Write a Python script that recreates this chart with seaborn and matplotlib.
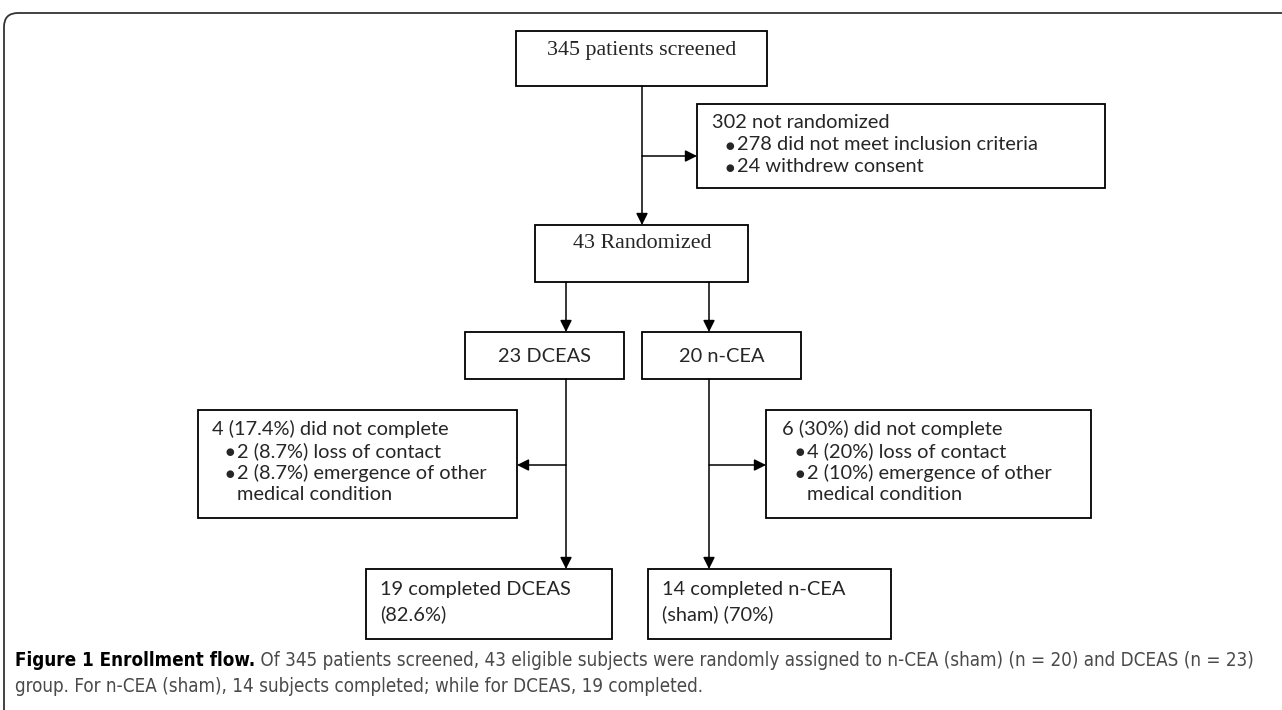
import matplotlib
matplotlib.use("Agg")
import matplotlib.pyplot as plt
import seaborn as sns
from matplotlib import font_manager
from matplotlib.font_manager import FontProperties
from matplotlib.patches import Rectangle, FancyBboxPatch, FancyArrowPatch

# --- flow chart content ---
screened_label = "345 patients screened"
excluded_title = "302 not randomized"
excluded_reasons = ["278 did not meet inclusion criteria", "24 withdrew consent"]
randomized_label = "43 Randomized"
group_labels = ["23 DCEAS", "20 n-CEA"]
dropout_titles = ["4 (17.4%) did not complete", "6 (30%) did not complete"]
dropout_reasons = [
    ["2 (8.7%) loss of contact", "2 (8.7%) emergence of other", "medical condition"],
    ["4 (20%) loss of contact", "2 (10%) emergence of other", "medical condition"],
]
completed_labels = [["19 completed DCEAS", "(82.6%)"], ["14 completed n-CEA", "(sham) (70%)"]]
caption_bold = "Figure 1 Enrollment flow."
caption_line1 = (" Of 345 patients screened, 43 eligible subjects were randomly assigned to "
                 "n-CEA (sham) (n = 20) and DCEAS (n = 23)")
caption_line2 = "group. For n-CEA (sham), 14 subjects completed; while for DCEAS, 19 completed."

# --- layout (pixels, y down) ---
box_screen = (516, 31, 767, 86)
box_excl = (697, 104, 1105, 188)
box_rand = (535, 225, 748, 282)
box_group = [(465, 332, 624, 379), (642, 332, 801, 379)]
box_drop = [(198, 410, 517, 518), (766, 410, 1091, 518)]
box_done = [(366, 569, 612, 639), (648, 569, 891, 639)]
stem_x = [566, 709]
main_x = 642
line_h = 22

sns.set_theme(style="white")
plt.rcParams["font.family"] = ["Lato", "DejaVu Sans"]

fig = plt.figure(figsize=(12.82, 7.10), dpi=100)
ax = fig.add_axes([0, 0, 1, 1])
ax.set_xlim(0, 1282)
ax.set_ylim(710, 0)
ax.axis("off")
renderer = fig.canvas.get_renderer()

serif = ["Liberation Serif", "DejaVu Serif"]
sans = ["Lato", "DejaVu Sans"]

# caption uses a condensed face if one is installed
narrow = [f for f in font_manager.fontManager.ttflist
          if ("Narrow" in f.fname or "ondensed" in f.fname) and "Mono" not in f.fname
          and "Italic" not in f.fname and "Oblique" not in f.fname]
narrow_reg = [f for f in narrow if "Bold" not in f.fname]
narrow_bold = [f for f in narrow if "Bold" in f.fname]
if narrow_reg:
    cap_reg = dict(fontproperties=FontProperties(fname=narrow_reg[0].fname))
    cap_bold = dict(fontproperties=FontProperties(fname=(narrow_bold or narrow_reg)[0].fname))
else:
    cap_reg = dict(family=["Lato"])
    cap_bold = dict(family=["Lato"], weight="bold")


def width10(text, **kw):
    t = fig.text(0, 0, text, **kw)
    t.set_fontsize(10)
    w = t.get_window_extent(renderer=renderer).width
    t.remove()
    return w


serif_fs = 10 * 139 / width10(randomized_label, family=serif)
sans_fs = 10 * 178 / width10(excluded_title, family=sans)
cap_fs = 10 * 1243 / (width10(caption_bold, **cap_bold) + width10(caption_line1, **cap_reg))


def box(b, lw=1.3):
    x0, y0, x1, y1 = b
    ax.add_patch(Rectangle((x0, y0), x1 - x0, y1 - y0, fill=False, ec="black", lw=lw))


def arrow(p0, p1):
    ax.add_patch(FancyArrowPatch(p0, p1, arrowstyle="-|>,head_length=0.7,head_width=0.35",
                                 mutation_scale=10, lw=1.1, color="black",
                                 shrinkA=0, shrinkB=0))


def bullet_block(b, title, items, dx=14):
    x0, y0 = b[0] + dx, b[1] + 19
    ax.text(x0, y0, title, fontsize=sans_fs, family=sans, va="center", ha="left")
    for i, item in enumerate(items):
        y = y0 + (i + 1) * line_h
        if item != "medical condition":
            ax.text(x0 + 18, y + 1, "\u25cf", fontsize=sans_fs * 0.5, family=["DejaVu Sans"],
                    va="center", ha="center")
        ax.text(x0 + 25, y, item, fontsize=sans_fs, family=sans, va="center", ha="left")


# outer frame
ax.add_patch(FancyBboxPatch((4, 13), 1400, 800, boxstyle="round,pad=0,rounding_size=14",
                            fill=False, ec="#333333", lw=1.3))

# top part
box(box_screen)
ax.text(main_x, 51, screened_label, fontsize=serif_fs, family=serif, ha="center", va="center")
box(box_excl)
bullet_block(box_excl, excluded_title, excluded_reasons, dx=15)
box(box_rand)
ax.text(main_x, 244, randomized_label, fontsize=serif_fs, family=serif, ha="center", va="center")
arrow((main_x, box_screen[3]), (main_x, box_rand[1]))
arrow((main_x, 156), (box_excl[0], 156))

# arms
for i in range(2):
    gb = box_group[i]
    box(gb)
    ax.text((gb[0] + gb[2]) / 2, 356, group_labels[i], fontsize=sans_fs, family=sans,
            ha="center", va="center")
    arrow((stem_x[i], box_rand[3]), (stem_x[i], gb[1]))
    arrow((stem_x[i], gb[3]), (stem_x[i], box_done[i][1]))

    db = box_drop[i]
    box(db)
    bullet_block(db, dropout_titles[i], dropout_reasons[i], dx=14 if i == 0 else 16)
    edge = db[2] if i == 0 else db[0]
    arrow((stem_x[i], 465), (edge, 465))

    cb = box_done[i]
    box(cb)
    for j, line in enumerate(completed_labels[i]):
        ax.text(cb[0] + 14, 589 + j * 25, line, fontsize=sans_fs, family=sans,
                ha="left", va="center")

# caption
t1 = ax.text(15, 661, caption_bold, fontsize=cap_fs, color="black", ha="left", va="center",
             **cap_bold)
ax.annotate(caption_line1, xy=(1, 0.5), xycoords=t1, fontsize=cap_fs, color="#4a4a4a",
            ha="left", va="center", **cap_reg)
ax.text(15, 686, caption_line2, fontsize=cap_fs, color="#4a4a4a", ha="left", va="center",
        **cap_reg)

fig.savefig("out.png", dpi=100, facecolor="white")
